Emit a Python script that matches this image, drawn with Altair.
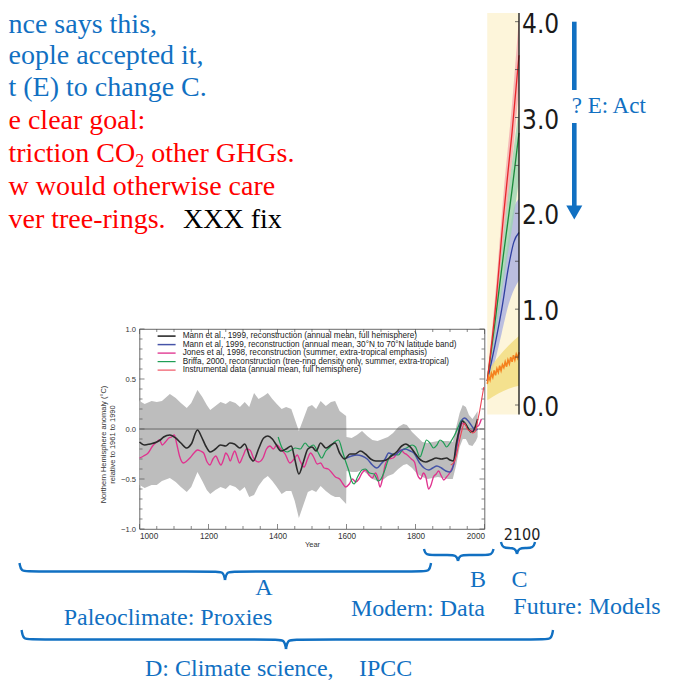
import altair as alt
import pandas as pd

BLUE = "#1170c2"
RED = "#ff0000"
SERIF = "Liberation Serif, Times New Roman, serif"
SANS = "Liberation Sans, Arial, Helvetica, sans-serif"
NARROW = "Liberation Sans Narrow, Arial Narrow, DejaVu Sans Condensed, sans-serif"

# ---------------- reconstruction panel (years 1000-2000) ----------------
band_years = [1000, 1015, 1035, 1050, 1065, 1088, 1105, 1120, 1137, 1150, 1168, 1182, 1195, 1205,
              1220, 1235, 1250, 1262, 1278, 1291, 1305, 1318, 1332, 1345, 1360, 1372, 1385, 1398,
              1412, 1425, 1440, 1450, 1462, 1475, 1488, 1500, 1512, 1525, 1540, 1555, 1567, 1580,
              1599, 1600, 1615, 1630, 1645, 1660, 1675, 1690, 1705, 1720, 1735, 1750, 1765, 1775,
              1790, 1805, 1820, 1835, 1850, 1865, 1880, 1895, 1908, 1918, 1928, 1937, 1946, 1955,
              1965, 1975, 1980]
band_low = [-0.56, -0.59, -0.56, -0.56, -0.52, -0.49, -0.53, -0.58, -0.63, -0.58, -0.43, -0.52, -0.61, -0.65,
            -0.61, -0.58, -0.60, -0.56, -0.58, -0.62, -0.58, -0.68, -0.66, -0.57, -0.50, -0.47, -0.52, -0.58,
            -0.65, -0.62, -0.62, -0.72, -0.89, -0.76, -0.63, -0.61, -0.63, -0.57, -0.62, -0.66, -0.68, -0.68,
            -0.75, -0.42, -0.43, -0.43, -0.41, -0.45, -0.50, -0.52, -0.51, -0.47, -0.45, -0.40, -0.36, -0.35,
            -0.39, -0.45, -0.48, -0.50, -0.49, -0.48, -0.49, -0.50, -0.50, -0.36, -0.18, -0.10, -0.10, -0.16,
            -0.17, -0.12, -0.08]
band_high = [0.28, 0.25, 0.28, 0.27, 0.28, 0.35, 0.31, 0.26, 0.21, 0.26, 0.39, 0.32, 0.24, 0.19,
             0.23, 0.27, 0.25, 0.28, 0.26, 0.22, 0.27, 0.22, 0.36, 0.30, 0.33, 0.36, 0.30, 0.25,
             0.20, 0.22, 0.20, 0.10, -0.02, 0.10, 0.22, 0.24, 0.20, 0.28, 0.23, 0.27, 0.28, 0.18,
             0.13, -0.08, -0.09, -0.06, -0.02, -0.07, -0.11, -0.12, -0.10, -0.08, -0.04, 0.02, 0.05, 0.04,
             -0.03, -0.08, -0.13, -0.14, -0.13, -0.12, -0.12, -0.12, -0.13, 0.02, 0.16, 0.24, 0.22, 0.14,
             0.10, 0.15, 0.18]

mann_years = [1000, 1015, 1030, 1050, 1060, 1070, 1088, 1105, 1120, 1137, 1150, 1168, 1180, 1192,
              1205, 1220, 1235, 1250, 1262, 1275, 1291, 1305, 1320, 1330, 1345, 1360, 1372, 1385,
              1395, 1410, 1425, 1440, 1450, 1462, 1475, 1488, 1500, 1512, 1525, 1540, 1555, 1567,
              1580, 1595, 1610, 1625, 1640, 1655, 1670, 1685, 1700, 1715, 1730, 1745, 1760, 1772,
              1785, 1800, 1815, 1830, 1845, 1860, 1875, 1890, 1900, 1910, 1918, 1928, 1936, 1945,
              1955, 1965, 1975, 1980]
mann_vals = [-0.13, -0.16, -0.15, -0.13, -0.11, -0.08, -0.06, -0.09, -0.14, -0.19, -0.15, -0.01, -0.08, -0.17,
             -0.23, -0.20, -0.16, -0.17, -0.14, -0.15, -0.19, -0.15, -0.28, -0.32, -0.20, -0.09, -0.07, -0.10,
             -0.15, -0.22, -0.20, -0.17, -0.30, -0.45, -0.33, -0.20, -0.18, -0.22, -0.14, -0.19, -0.16, -0.14,
             -0.24, -0.30, -0.25, -0.25, -0.22, -0.25, -0.30, -0.32, -0.32, -0.31, -0.27, -0.23, -0.17, -0.15,
             -0.18, -0.25, -0.31, -0.33, -0.31, -0.29, -0.30, -0.29, -0.31, -0.32, -0.15, 0.00, 0.08, 0.05,
             -0.01, -0.03, 0.04, 0.10]

nh3070_years = [1600, 1615, 1630, 1645, 1660, 1675, 1688, 1700, 1712, 1722, 1740, 1755, 1770, 1785,
                1795, 1812, 1825, 1838, 1850, 1862, 1875, 1888, 1900, 1910, 1920, 1930, 1942, 1955,
                1965, 1975, 1980]
nh3070_vals = [-0.29, -0.27, -0.26, -0.27, -0.30, -0.36, -0.39, -0.35, -0.30, -0.24, -0.26, -0.22, -0.20, -0.22,
               -0.24, -0.34, -0.39, -0.41, -0.39, -0.37, -0.39, -0.42, -0.43, -0.36, -0.15, 0.05, 0.11, 0.07,
               0.02, -0.01, 0.00]

jones_years = [1000, 1012, 1025, 1038, 1050, 1058, 1066, 1075, 1085, 1093, 1101, 1108, 1116, 1127,
               1137, 1146, 1158, 1168, 1177, 1186, 1196, 1204, 1213, 1221, 1230, 1236, 1244, 1250,
               1257, 1263, 1270, 1276, 1283, 1290, 1300, 1310, 1320, 1332, 1345, 1358, 1368, 1378,
               1388, 1398, 1410, 1422, 1436, 1448, 1457, 1467, 1477, 1487, 1496, 1506, 1515, 1525,
               1535, 1547, 1558, 1568, 1580, 1590, 1598, 1608, 1617, 1627, 1636, 1645, 1655, 1665,
               1675, 1684, 1690, 1697, 1703, 1712, 1722, 1735, 1748, 1757, 1767, 1776, 1788, 1797,
               1806, 1815, 1823, 1830, 1838, 1845, 1852, 1860, 1867, 1875, 1882, 1890, 1897, 1905,
               1912, 1920, 1928, 1938, 1948, 1957, 1966, 1974, 1982, 1991]
jones_vals = [-0.29, -0.27, -0.24, -0.17, -0.13, -0.11, -0.16, -0.13, -0.09, -0.08, -0.06, -0.15, -0.27, -0.34,
              -0.32, -0.29, -0.24, -0.21, -0.22, -0.24, -0.33, -0.36, -0.30, -0.27, -0.33, -0.36, -0.30, -0.24,
              -0.27, -0.32, -0.26, -0.22, -0.28, -0.34, -0.27, -0.20, -0.21, -0.30, -0.33, -0.29, -0.20, -0.17,
              -0.20, -0.16, -0.20, -0.25, -0.34, -0.30, -0.26, -0.33, -0.38, -0.30, -0.24, -0.29, -0.35, -0.34,
              -0.39, -0.40, -0.44, -0.48, -0.50, -0.55, -0.58, -0.55, -0.50, -0.53, -0.50, -0.44, -0.41, -0.46,
              -0.49, -0.44, -0.48, -0.58, -0.52, -0.36, -0.30, -0.29, -0.24, -0.21, -0.24, -0.26, -0.30, -0.33,
              -0.46, -0.50, -0.44, -0.48, -0.60, -0.56, -0.48, -0.45, -0.42, -0.47, -0.51, -0.48, -0.45, -0.40,
              -0.34, -0.18, -0.02, 0.06, 0.03, -0.01, -0.02, 0.02, 0.03, 0.10]

briffa_years = [1402, 1415, 1428, 1440, 1452, 1466, 1480, 1492, 1504, 1517, 1528, 1540, 1552, 1565,
                1577, 1588, 1598, 1607, 1615, 1622, 1632, 1645, 1655, 1667, 1680, 1692, 1700, 1710,
                1722, 1735, 1750, 1762, 1774, 1790, 1800, 1813, 1822, 1832, 1842, 1852, 1862, 1871,
                1880, 1890, 1898, 1905, 1915, 1925, 1934, 1943, 1953, 1960]
briffa_vals = [-0.08, -0.20, -0.23, -0.21, -0.19, -0.20, -0.14, -0.18, -0.16, -0.23, -0.29, -0.22, -0.18, -0.13,
               -0.11, -0.22, -0.33, -0.42, -0.52, -0.55, -0.48, -0.41, -0.40, -0.44, -0.45, -0.52, -0.50, -0.42,
               -0.30, -0.25, -0.26, -0.21, -0.19, -0.16, -0.18, -0.28, -0.20, -0.11, -0.14, -0.19, -0.16, -0.11,
               -0.13, -0.18, -0.15, -0.11, -0.05, 0.03, 0.09, 0.06, 0.01, -0.04]

instr_years = [1902, 1910, 1918, 1926, 1934, 1942, 1950, 1958, 1966, 1974, 1980, 1986, 1992, 1998]
instr_vals = [-0.36, -0.34, -0.27, -0.14, -0.02, 0.06, 0.00, -0.02, -0.04, -0.02, 0.08, 0.18, 0.30, 0.42]

legend_labels = [
    "Mann et al., 1999, reconstruction (annual mean, full hemisphere)",
    "Mann et al, 1999, reconstruction (annual mean, 30\u00b0N to 70\u00b0N latitude band)",
    "Jones et al, 1998, reconstruction (summer, extra-tropical emphasis)",
    "Briffa, 2000, reconstruction (tree-ring density only, summer, extra-tropical)",
    "Instrumental data (annual mean, full hemisphere)",
]
line_colors = ["#2b2b2b", "#4654a8", "#e0338f", "#1f9e55", "#ee4455"]
line_widths = [1.6, 1.1, 1.1, 1.1, 1.1]

y_major = [-1.0, -0.5, 0.0, 0.5, 1.0]
y_minor = [-0.9, -0.8, -0.7, -0.6, -0.4, -0.3, -0.2, -0.1, 0.1, 0.2, 0.3, 0.4, 0.6, 0.7, 0.8, 0.9]
x_major = [1000, 1200, 1400, 1600, 1800, 2000]
x_minor = [1050, 1100, 1150, 1250, 1300, 1350, 1450, 1500, 1550, 1650, 1700, 1750, 1850, 1900, 1950]
y_title = ["Northern Hemisphere anomaly (\u00b0C)", "relative to 1961 to 1990"]

# ---------------- projection panel (2008-2100) ----------------
a2_years = [2008, 2030, 2055, 2080, 2100]
a2_vals = [0.25, 0.95, 1.97, 2.85, 3.65]
a2_low = [0.20, 0.80, 1.75, 2.55, 3.30]
a2_high = [0.30, 1.10, 2.20, 3.15, 4.05]
a1b_years = [2008, 2030, 2055, 2080, 2100]
a1b_vals = [0.25, 0.85, 1.57, 2.25, 2.84]
a1b_low = [0.20, 0.70, 1.30, 1.85, 2.35]
a1b_high = [0.30, 1.00, 1.80, 2.55, 3.10]
b1_years = [2008, 2030, 2050, 2070, 2085, 2100]
b1_vals = [0.25, 0.62, 1.00, 1.45, 1.70, 1.80]
b1_low = [0.20, 0.45, 0.75, 1.05, 1.20, 1.30]
b1_high = [0.30, 0.80, 1.25, 1.75, 2.05, 2.15]
const_years = [2008, 2012, 2016, 2020, 2024, 2028, 2032, 2036, 2040, 2044, 2048, 2052,
               2056, 2060, 2064, 2068, 2072, 2076, 2080, 2084, 2088, 2092, 2096, 2100]
const_vals = [0.22, 0.30, 0.26, 0.33, 0.29, 0.36, 0.31, 0.38, 0.34, 0.41, 0.36, 0.42,
              0.39, 0.45, 0.40, 0.47, 0.43, 0.50, 0.45, 0.52, 0.47, 0.53, 0.49, 0.55]
const_band_years = [2008, 2040, 2070, 2100]
const_band_low = [0.05, 0.12, 0.17, 0.20]
const_band_high = [0.35, 0.50, 0.62, 0.72]
fut_labels = [0.0, 1.0, 2.0, 3.0, 4.0]
fut_minor = [0.5, 1.5, 2.5, 3.5]
panel = {"x1": [2008], "x2": [2100], "y1": [-0.10], "y2": [4.09]}

# ---------------- slide text (page coordinates) ----------------
top_text = ["nce says this,", "eople accepted it,", "t (E) to change C.", "e clear goal:",
            "triction CO", "2", "other GHGs.", "w would otherwise care", "ver tree-rings.", "XXX fix"]
top_x = [8.5, 8.5, 8.5, 8.5, 8.5, 135.3, 151.3, 8.5, 8.5, 183]
top_y = [33, 64, 96, 129, 162, 167, 162, 195, 228, 228]
top_color = [BLUE, BLUE, BLUE, RED, RED, RED, RED, RED, RED, "#000000"]
top_size = [28, 28, 28, 28, 28, 18, 28, 28, 28, 28]

mid_text = ["A", "B", "C", "Paleoclimate: Proxies", "Modern: Data", "Future: Models"]
mid_x = [264, 478, 519.5, 168, 418, 587]
mid_y = [588, 580, 580, 618, 609, 607]

left_text = ["D: Climate science,", "IPCC", "? E: Act"]
left_x = [145, 359, 571.7]
left_y = [676, 676, 113]
left_size = [24, 24, 23]

braces = {  # id: (x_left, x_right, y_ends, y_tip, x_tip)
    "A": (19.5, 431, 563, 580, 225),
    "B": (424, 493.5, 549, 561, 458),
    "C": (501, 535, 542, 554, 517),
    "D": (21.6, 553, 630, 649, 286),
}
arrow_x = [574.3, 574.3]
arrow_y1 = [21.7, 123]
arrow_y2 = [90, 207]
arrow_head = {"x": [574.3], "y": [212.5]}

# ---------------- scales ----------------
XS = alt.Scale(domain=[1000, 2000], nice=False, zero=False)
YM = alt.Scale(domain=[-1, 1], nice=False, zero=False)
YF = alt.Scale(domain=[-1.294, 0.793], nice=False, zero=False)
PX = alt.Scale(domain=[139.5, 484.5], nice=False, zero=False)
PY = alt.Scale(domain=[329, 529], reverse=True, nice=False, zero=False)

W, H = 345, 200

# ---------- main panel layers ----------
band_df = pd.DataFrame({"year": band_years, "lo": band_low, "hi": band_high})
band = alt.Chart(band_df).mark_area(color="#bdbdbd", opacity=1).encode(
    x=alt.X("year:Q", scale=XS, title="Year",
            axis=alt.Axis(values=x_major, format="d", tickSize=0, domain=False, grid=False,
                          labelFontSize=8.2, labelColor="#333", labelFont=SANS, labelPadding=3,
                          titleFontSize=7.5, titleFont=SANS, titleFontWeight="normal",
                          titleColor="#333", titlePadding=1)),
    y=alt.Y("lo:Q", scale=YM, title=y_title,
            axis=alt.Axis(values=y_major, format=".1f", tickSize=0, domain=False, grid=False,
                          labelFontSize=7.6, labelColor="#333", labelFont=SANS, labelPadding=4,
                          titleFontSize=7.5, titleFont=SANS, titleFontWeight="normal",
                          titleColor="#333", titlePadding=4, titleY=115)),
    y2="hi:Q",
)

zero_df = pd.DataFrame({"year": [1000], "year2": [2000], "v": [0.0]})
zero_line = alt.Chart(zero_df).mark_rule(color="#555555", strokeWidth=0.8).encode(
    x=alt.X("year:Q", scale=XS, axis=None), x2="year2:Q",
    y=alt.Y("v:Q", scale=YM, axis=None))

frames = []
for name, yrs, vals in [(legend_labels[2], jones_years, jones_vals),
                        (legend_labels[3], briffa_years, briffa_vals),
                        (legend_labels[1], nh3070_years, nh3070_vals),
                        (legend_labels[0], mann_years, mann_vals),
                        (legend_labels[4], instr_years, instr_vals)]:
    frames.append(pd.DataFrame({"year": yrs, "anom": vals, "series": name}))
lines_df = pd.concat(frames, ignore_index=True)
lines = alt.Chart(lines_df).mark_line(interpolate="monotone").encode(
    x=alt.X("year:Q", scale=XS, axis=None),
    y=alt.Y("anom:Q", scale=YM, axis=None),
    color=alt.Color("series:N", scale=alt.Scale(domain=legend_labels, range=line_colors),
                    legend=alt.Legend(title=None, orient="none", legendX=23, legendY=3,
                                      symbolType="M-3,0L3,0", symbolSize=36, symbolStrokeWidth=1.5,
                                      labelFontSize=8.2, labelFont=SANS, labelColor="#222",
                                      labelOffset=12, rowPadding=-0.5, padding=0, labelLimit=500)),
    strokeWidth=alt.StrokeWidth("series:N", scale=alt.Scale(domain=legend_labels, range=line_widths),
                                legend=None),
)


def tick_layer(vals, field_type, side, length):
    df = pd.DataFrame({"v": vals})
    base = alt.Chart(df).mark_rule(color="#555555", strokeWidth=0.7)
    if field_type == "y":
        enc = {"y": alt.Y("v:Q", scale=YM, axis=None)}
        if side == "left":
            enc.update(x=alt.value(0), x2=alt.value(length))
        else:
            enc.update(x=alt.value(W), x2=alt.value(W - length))
    else:
        enc = {"x": alt.X("v:Q", scale=XS, axis=None)}
        if side == "bottom":
            enc.update(y=alt.value(H), y2=alt.value(H - length))
        else:
            enc.update(y=alt.value(0), y2=alt.value(length))
    return base.encode(**enc)


ticks = [tick_layer(y_major, "y", "left", 5), tick_layer(y_minor, "y", "left", 3),
         tick_layer(y_major, "y", "right", 5), tick_layer(y_minor, "y", "right", 3),
         tick_layer(x_major, "x", "bottom", 5), tick_layer(x_minor, "x", "bottom", 3),
         tick_layer(x_major, "x", "top", 5), tick_layer(x_minor, "x", "top", 3)]

# ---------- projection layers ----------
FX = alt.Scale(domain=[1000, 2000], nice=False, zero=False)
panel_rect = alt.Chart(pd.DataFrame(panel)).mark_rect(color="#fdf5da").encode(
    x=alt.X("x1:Q", scale=FX, axis=None), x2="x2:Q",
    y=alt.Y("y1:Q", scale=YF, axis=None), y2="y2:Q")


def fband(yrs, lo, hi, color, op):
    df = pd.DataFrame({"year": yrs, "lo": lo, "hi": hi})
    return alt.Chart(df).mark_area(color=color, opacity=op, interpolate="monotone").encode(
        x=alt.X("year:Q", scale=FX, axis=None),
        y=alt.Y("lo:Q", scale=YF, axis=None), y2="hi:Q")


def fline(yrs, vals, color, width=1.3, interp="monotone"):
    df = pd.DataFrame({"year": yrs, "v": vals})
    return alt.Chart(df).mark_line(color=color, strokeWidth=width, interpolate=interp).encode(
        x=alt.X("year:Q", scale=FX, axis=None),
        y=alt.Y("v:Q", scale=YF, axis=None))


fut_layers = [
    panel_rect,
    fband(b1_years, b1_low, b1_high, "#aab0e0", 0.8),
    fband(a1b_years, a1b_low, a1b_high, "#9dd3b1", 0.8),
    fband(a2_years, a2_low, a2_high, "#f4aaae", 0.8),
    fband(const_band_years, const_band_low, const_band_high, "#f1dc7a", 0.8),
    fline(b1_years, b1_vals, "#2f3fa0"),
    fline(a1b_years, a1b_vals, "#1b8a3a"),
    fline(a2_years, a2_vals, "#e8262b"),
    fline(const_years, const_vals, "#f5821f", 1.6, "linear"),
]

fut_axis_df = pd.DataFrame({"x": [2100], "y1": [-0.10], "y2": [4.09]})
fut_axis = alt.Chart(fut_axis_df).mark_rule(color="#111111", strokeWidth=1.3).encode(
    x=alt.X("x:Q", scale=FX, axis=None), y=alt.Y("y1:Q", scale=YF, axis=None), y2="y2:Q")
fut_tick_df = pd.DataFrame({"x": 2100, "v": fut_labels + fut_minor})
fut_ticks = alt.Chart(fut_tick_df).mark_tick(color="#333333", thickness=1, size=4, orient="horizontal",
                                             xOffset=-2).encode(
    x=alt.X("x:Q", scale=FX, axis=None), y=alt.Y("v:Q", scale=YF, axis=None))
fut_lab_df = pd.DataFrame({"x": 2100, "v": fut_labels, "t": [f"{v:.1f}" for v in fut_labels]})
fut_text = alt.Chart(fut_lab_df).mark_text(align="left", baseline="middle", dx=3, dy=3, font=NARROW,
                                           fontSize=26, color="#1a1a1a").encode(
    x=alt.X("x:Q", scale=FX, axis=None), y=alt.Y("v:Q", scale=YF, axis=None), text="t:N")

# ---------- slide annotations (page coordinates) ----------
top_df = pd.DataFrame({"t": top_text, "x": top_x, "y": top_y, "c": top_color, "s": top_size})
top_layer = alt.Chart(top_df).mark_text(align="left", baseline="alphabetic", font=SERIF).encode(
    x=alt.X("x:Q", scale=PX, axis=None), y=alt.Y("y:Q", scale=PY, axis=None),
    text="t:N", color=alt.Color("c:N", scale=None), size=alt.Size("s:Q", scale=None))

mid_df = pd.DataFrame({"t": mid_text, "x": mid_x, "y": mid_y})
mid_layer = alt.Chart(mid_df).mark_text(align="center", baseline="middle", font=SERIF,
                                        fontSize=24, color=BLUE).encode(
    x=alt.X("x:Q", scale=PX, axis=None), y=alt.Y("y:Q", scale=PY, axis=None), text="t:N")

left_df = pd.DataFrame({"t": left_text, "x": left_x, "y": left_y, "s": left_size})
left_layer = alt.Chart(left_df).mark_text(align="left", baseline="alphabetic", font=SERIF,
                                          color=BLUE).encode(
    x=alt.X("x:Q", scale=PX, axis=None), y=alt.Y("y:Q", scale=PY, axis=None),
    text="t:N", size=alt.Size("s:Q", scale=None))

yr_df = pd.DataFrame({"t": ["2100"], "x": [522], "y": [535]})
yr_layer = alt.Chart(yr_df).mark_text(align="center", baseline="middle", font=NARROW,
                                      fontSize=16, color="#222222").encode(
    x=alt.X("x:Q", scale=PX, axis=None), y=alt.Y("y:Q", scale=PY, axis=None), text="t:N")

brace_rows = []
for bid, (x1, x2, y0, tip, xm) in braces.items():
    ym = (y0 + tip) / 2
    pts = [(x1, y0), (x1 + 1.5, ym), (x1 + 10, ym), (xm - 10, ym), (xm - 1.5, ym), (xm, tip)]
    for i, (px, py) in enumerate(pts):
        brace_rows.append({"id": bid + "L", "o": i, "x": px, "y": py})
    pts = [(xm, tip), (xm + 1.5, ym), (xm + 10, ym), (x2 - 10, ym), (x2 - 1.5, ym), (x2, y0)]
    for i, (px, py) in enumerate(pts):
        brace_rows.append({"id": bid + "R", "o": i, "x": px, "y": py})
brace_layer = alt.Chart(pd.DataFrame(brace_rows)).mark_line(
    interpolate="basis", color=BLUE, strokeWidth=2.4).encode(
    x=alt.X("x:Q", scale=PX, axis=None), y=alt.Y("y:Q", scale=PY, axis=None),
    detail="id:N", order="o:Q")

arrow_df = pd.DataFrame({"x": arrow_x, "y1": arrow_y1, "y2": arrow_y2})
arrow_layer = alt.Chart(arrow_df).mark_rule(color=BLUE, strokeWidth=4.6).encode(
    x=alt.X("x:Q", scale=PX, axis=None), y=alt.Y("y1:Q", scale=PY, axis=None), y2="y2:Q")
head_layer = alt.Chart(pd.DataFrame(arrow_head)).mark_point(
    shape="triangle-down", filled=True, size=256, color=BLUE, opacity=1, strokeWidth=0).encode(
    x=alt.X("x:Q", scale=PX, axis=None), y=alt.Y("y:Q", scale=PY, axis=None))

chart = alt.layer(
    band, zero_line, *ticks, lines, *fut_layers, fut_axis, fut_ticks, fut_text,
    top_layer, mid_layer, left_layer, yr_layer, brace_layer, arrow_layer, head_layer,
).resolve_scale(
    x="independent", y="independent", color="independent", size="independent",
    strokeWidth="independent",
).properties(
    width=W, height=H,
    autosize=alt.AutoSizeParams(type="none"),
    padding={"left": 131.5, "top": 321, "right": 186.5, "bottom": 152},
    background="white",
).configure_view(stroke="#444444", strokeWidth=0.8)

chart.save("out.html", embed_options={"renderer": "svg", "actions": False})
